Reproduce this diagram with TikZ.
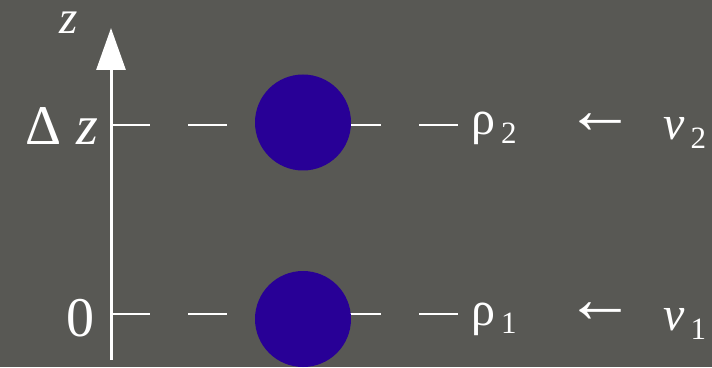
\documentclass[tikz,border=0pt]{standalone}
\usepackage{fontspec}
\setmainfont{Liberation Serif}
\usetikzlibrary{arrows.meta, positioning}
\definecolor{board}{RGB}{88,88,84}
\definecolor{ballblue}{RGB}{40,0,150}

\tikzset{
  lbl/.style={text=white, inner sep=0pt, font=\fontsize{48}{52}\selectfont},
  axlbl/.style={text=white, inner sep=0pt, font=\fontsize{56}{60}\selectfont},
  guide/.style={white, line width=1.5pt, dash pattern=on 39pt off 38pt},
  ball/.style={fill=ballblue, draw=none}
}
\newcommand{\lowsub}[1]{\kern6pt\raisebox{-9pt}{\fontsize{31}{33}\selectfont #1}}

\begin{document}
\begin{tikzpicture}[x=1pt, y=1pt]
    % Background
    \fill[board] (0,0) rectangle (712,367);
    \useasboundingbox (0,0) rectangle (712,367);

    % Axis
    \coordinate (zbot) at (111,7);
    \coordinate (ztop) at (111,339);
    \draw[white, line width=3pt, -{Triangle[length=42pt, width=29pt]}] (zbot) -- (ztop);
    \node[axlbl, anchor=base, text height=1ex, font=\fontsize{47}{50}\selectfont] (zname) at (69,333) {\textit{z}};

    % Axis labels
    \node[axlbl, anchor=base east] (dzlab) at (98,222) {Δ \textit{z}};
    \node[axlbl, anchor=base] (zerolab) at (80,31) {0};

    % Levels: dashed guide, ball, density and velocity
    \foreach \i/\ly/\by/\base in {2/242/244.5/232, 1/53/48/42} {
        \coordinate (tick\i) at (111,\ly);
        \coordinate (gend\i) at (460,\ly);
        \draw[guide] (tick\i) -- (gend\i);
        \fill[ball] (303,\by) circle (48);
        \node[lbl, anchor=base west] (rho\i) at (471,\base) {ρ\lowsub{\i}};
        \node[lbl, font=\fontsize{70}{74}\selectfont] (arr\i) at (600,\ly+1) {←};
        \node[lbl, anchor=base west] (vel\i) at (663,\base-5) {\textit{v}\lowsub{\i}};
    }

\end{tikzpicture}
\end{document}
